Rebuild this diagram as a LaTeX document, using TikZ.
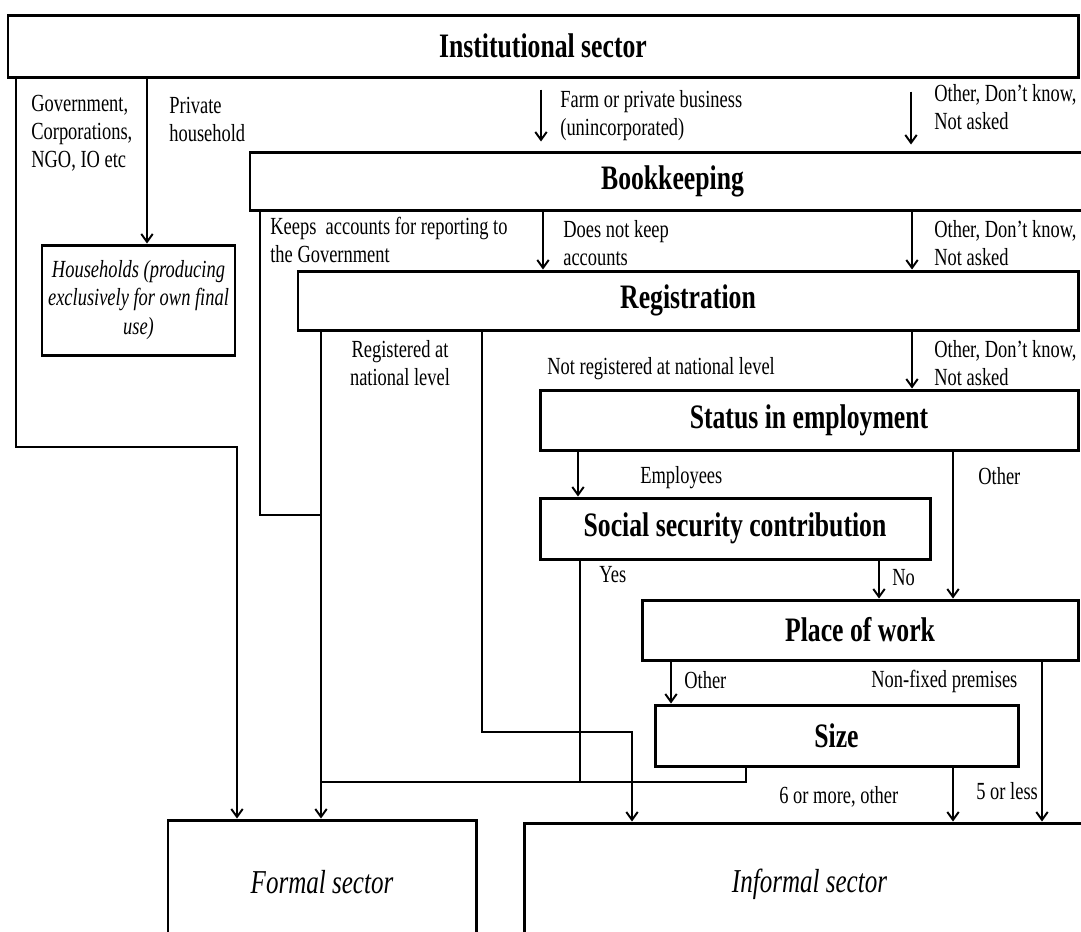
\documentclass[tikz,border=0pt]{standalone}
\usepackage{fontspec}
\setmainfont{Liberation Serif}[FakeStretch=0.75]
\usetikzlibrary{arrows.meta}
\newcommand\lblfont{\fontsize{14}{16}\selectfont}
\newcommand\headfont{\fontsize{19.5}{22}\selectfont\bfseries}
\newcommand\sectfont{\fontsize{19}{22}\selectfont\itshape}
\begin{document}
\begin{tikzpicture}[x=0.02cm,y=-0.02cm,
  box/.style={draw,line width=1.7pt,inner sep=0pt},
  rbox/.style 2 args={minimum width=#1*0.02cm,minimum height=#2*0.02cm},
  head/.style={box,font=\headfont},
  lbl/.style={anchor=north west,inner sep=0pt,align=left,font=\lblfont},
  conn/.style={line width=1.1pt},
  >={Straight Barb[length=4.5pt,width=6.5pt]}]
\clip (0,0) rectangle (1081,931);
% boxes
\node[head,rbox={1070}{62}] (inst) at (543,46) {Institutional sector};
\node[head,rbox={845}{58}] (bk) at (672.5,181) {Bookkeeping};
\node[head,rbox={780}{59}] (reg) at (688,300.5) {Registration};
\node[head,rbox={538}{60}] (stat) at (809,420) {Status in employment};
\node[head,rbox={390}{61}] (ssc) at (735,528.5) {Social security contribution};
\node[head,rbox={436}{60}] (pw) at (860,630) {Place of work};
\node[head,rbox={363}{61}] (size) at (836.5,735.5) {Size};
\node[box,rbox={193}{110},align=center,font=\lblfont\itshape] (hh) at (138.5,300) {Households (producing\\exclusively for own final\\use)};
\node[box,rbox={308}{125},font=\sectfont] (formal) at (322,882.5) {Formal sector};
\node[box,rbox={571}{122},font=\sectfont] (informal) at (809.5,884) {Informal sector};
% labels
\node[lbl] (govl) at (31,95) {Government,\\Corporations,\\NGO, IO etc};
\node[lbl] (privl) at (169,97) {Private\\household};
\node[lbl] (farml) at (560,90) {Farm or private business\\(unincorporated)};
\node[lbl] (oth1) at (934,84) {Other, Don’t know,\\Not asked};
\node[lbl] (keepl) at (270,217) {Keeps~ accounts for reporting to\\the Government};
\node[lbl] (nokeepl) at (563,220) {Does not keep\\accounts};
\node[lbl] (oth2) at (934,220) {Other, Don’t know,\\Not asked};
\node[lbl,anchor=north,align=center] (regl) at (400,340) {Registered at\\national level};
\node[lbl] (notregl) at (547,357) {Not registered at national level};
\node[lbl] (oth3) at (934,340) {Other, Don’t know,\\Not asked};
\node[lbl] (empl) at (640,466) {Employees};
\node[lbl] (othstat) at (978,467) {Other};
\node[lbl] (yesl) at (599,566) {Yes};
\node[lbl] (nol) at (892,569) {No};
\node[lbl] (othpw) at (684,671) {Other};
\node[lbl] (nonfixl) at (871,670) {Non-fixed premises};
\node[lbl] (sixl) at (779,786) {6 or more, other};
\node[lbl] (fivel) at (976,782) {5 or less};
% connectors
\draw[conn,->] (inst.south -| 16,0) |- (237,447) -- (formal.north -| 237,0);
\draw[conn,->] (inst.south -| 147,0) -- (hh.north -| 147,0);
\draw[conn,->] (inst.south -| 541,0) ++(0,11) -- ++(0,52);
\draw[conn,->] (inst.south -| 911,0) ++(0,13) -- ++(0,53);
\draw[conn] (bk.south -| 260,0) |- (321,515);
\draw[conn,->] (bk.south -| 543,0) -- (reg.north -| 543,0);
\draw[conn,->] (bk.south -| 912,0) -- (reg.north -| 912,0);
\draw[conn,->] (reg.south -| 321,0) -- (formal.north -| 321,0);
\draw[conn,->] (reg.south -| 482,0) |- (632,732) -- (informal.north -| 632,0);
\draw[conn,->] (reg.south -| 912,0) -- (stat.north -| 912,0);
\draw[conn,->] (stat.south -| 578,0) -- (ssc.north -| 578,0);
\draw[conn,->] (stat.south -| 953,0) -- (pw.north -| 953,0);
\draw[conn] (ssc.south -| 580,0) -- (580,782);
\draw[conn,->] (ssc.south -| 879,0) -- (pw.north -| 879,0);
\draw[conn,->] (pw.south -| 671,0) -- (size.north -| 671,0);
\draw[conn,->] (pw.south -| 1042,0) -- (informal.north -| 1042,0);
\draw[conn] (size.south -| 746,0) |- (321,782);
\draw[conn,->] (size.south -| 953,0) -- (informal.north -| 953,0);
\end{tikzpicture}
\end{document}
